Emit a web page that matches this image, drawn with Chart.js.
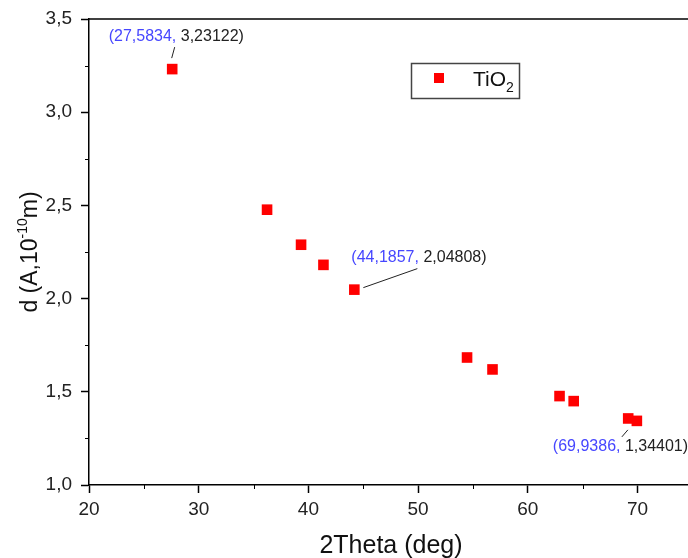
<!DOCTYPE html>
<html>
<head>
<meta charset="utf-8">
<script src="https://cdn.jsdelivr.net/npm/chart.js@4.4.1/dist/chart.umd.min.js"></script>
<style>
  html, body { margin: 0; padding: 0; background: #fff; overflow: hidden; }
  #wrap { width: 688px; height: 558px; position: relative; }
</style>
</head>
<body>
<div id="wrap"><canvas id="chart"></canvas></div>
<script>
// Valeurs (pics DRX du TiO2)
const twoTheta = [27.5834, 36.23, 39.33, 41.37, 44.1857, 54.46, 56.78, 62.89, 64.18, 69.15, 69.9386];
const dSpacing = [3.23122, 2.477, 2.289, 2.181, 2.04808, 1.684, 1.620, 1.477, 1.450, 1.357, 1.34401];
const labeledPoints = [0, 4, 10];
const xTickValues = [20, 30, 40, 50, 60, 70];
const yTickValues = [1.0, 1.5, 2.0, 2.5, 3.0, 3.5];
const seriesName = 'TiO';
const seriesSub = '2';

const FONT = "'Liberation Sans', Arial, sans-serif";
const comma = (v, n) => v.toFixed(n).replace('.', ',');

// Position des étiquettes par rapport au point (en px)
const labelOffsets = [
    { tx: -63.5, ty: -33, l1: [2.5, -22], l2: [-0.5, -11] },
    { tx: -3, ty: -32, l1: [63, -21], l2: [9, -2] },
    { tx: -84, ty: 26, l1: [-9, 9], l2: [-15, 16] }
];

// Dessine le cadre, les sous-graduations, les titres, la légende et les étiquettes
const decorPlugin = {
    id: 'decor',
    afterDraw(chart) {
        const { ctx, chartArea } = chart;
        const x = chart.scales.x, y = chart.scales.y;
        ctx.save();

        // ligne du haut
        ctx.strokeStyle = '#000';
        ctx.lineWidth = 1.5;
        ctx.beginPath();
        ctx.moveTo(chartArea.left, chartArea.top);
        ctx.lineTo(chartArea.right, chartArea.top);
        ctx.stroke();

        // sous-graduations
        ctx.lineWidth = 1;
        const xStep = x.ticks[1].value - x.ticks[0].value;
        x.ticks.forEach(t => {
            const v = t.value + xStep / 2;
            if (v >= x.max) return;
            const px = Math.round(x.getPixelForValue(v)) + 0.5;
            ctx.beginPath();
            ctx.moveTo(px, chartArea.bottom);
            ctx.lineTo(px, chartArea.bottom + 4);
            ctx.stroke();
        });
        const yStep = y.ticks[1].value - y.ticks[0].value;
        y.ticks.forEach(t => {
            const v = t.value + yStep / 2;
            if (v >= y.max) return;
            const py = Math.round(y.getPixelForValue(v)) + 0.5;
            ctx.beginPath();
            ctx.moveTo(chartArea.left, py);
            ctx.lineTo(chartArea.left - 4, py);
            ctx.stroke();
        });

        // titre axe x
        ctx.fillStyle = '#111';
        ctx.font = '25px ' + FONT;
        ctx.textAlign = 'center';
        ctx.textBaseline = 'alphabetic';
        ctx.fillText('2Theta (deg)', 391, 553);

        // titre axe y avec exposant
        ctx.save();
        ctx.translate(37, (chartArea.top + chartArea.bottom) / 2);
        ctx.rotate(-Math.PI / 2);
        ctx.textAlign = 'left';
        const parts = [
            { t: 'd (A,10', f: '23px ', dy: 0 },
            { t: '-10', f: '14px ', dy: -10 },
            { t: 'm)', f: '23px ', dy: 0 }
        ];
        let total = 0;
        parts.forEach(p => { ctx.font = p.f + FONT; p.w = ctx.measureText(p.t).width; total += p.w; });
        let cx = -total / 2;
        parts.forEach(p => { ctx.font = p.f + FONT; ctx.fillText(p.t, cx, p.dy); cx += p.w; });
        ctx.restore();

        // légende
        ctx.strokeStyle = '#444';
        ctx.lineWidth = 1.5;
        ctx.strokeRect(411.5, 63.5, 108, 35);
        ctx.fillStyle = '#ff0000';
        ctx.fillRect(434, 73, 10, 10);
        ctx.fillStyle = '#111';
        ctx.textAlign = 'left';
        ctx.font = '21px ' + FONT;
        ctx.fillText(seriesName, 473, 86);
        const w = ctx.measureText(seriesName).width;
        ctx.font = '14px ' + FONT;
        ctx.fillText(seriesSub, 473 + w, 92);

        // étiquettes des points
        ctx.font = '16px ' + FONT;
        ctx.textBaseline = 'middle';
        labeledPoints.forEach((idx, k) => {
            const o = labelOffsets[k];
            const px = x.getPixelForValue(twoTheta[idx]);
            const py = y.getPixelForValue(dSpacing[idx]);
            ctx.strokeStyle = '#222';
            ctx.lineWidth = 1;
            ctx.beginPath();
            ctx.moveTo(px + o.l1[0], py + o.l1[1]);
            ctx.lineTo(px + o.l2[0], py + o.l2[1]);
            ctx.stroke();
            const a = '(' + comma(twoTheta[idx], 4) + ',';
            const b = ' ' + comma(dSpacing[idx], 5) + ')';
            const tx = px + o.tx, ty = py + o.ty;
            ctx.fillStyle = '#4646ff';
            ctx.fillText(a, tx, ty);
            const aw = ctx.measureText(a).width;
            ctx.fillStyle = '#222';
            ctx.fillText(b, tx + aw, ty);
        });

        ctx.restore();
    }
};

const ctx = document.getElementById('chart').getContext('2d');

new Chart(ctx, {
    type: 'scatter',
    data: {
        datasets: [{
            label: seriesName + seriesSub,
            data: twoTheta.map((v, i) => ({ x: v, y: dSpacing[i] })),
            pointStyle: 'rect',
            pointRadius: 7.5,
            pointHoverRadius: 7.5,
            pointBorderWidth: 0,
            backgroundColor: '#ff0000',
            borderColor: '#ff0000'
        }]
    },
    options: {
        responsive: true,
        maintainAspectRatio: false,
        animation: false,
        layout: { autoPadding: false, padding: { top: 19, right: 0, left: 0, bottom: 0 } },
        plugins: {
            legend: { display: false },
            tooltip: { enabled: false }
        },
        scales: {
            x: {
                type: 'linear',
                min: 20,
                max: 74.6,
                afterFit: s => { s.height = 73; s.paddingLeft = 0; s.paddingRight = 0; },
                afterBuildTicks: s => { s.ticks = xTickValues.map(v => ({ value: v })); },
                ticks: {
                    autoSkip: false,
                    maxRotation: 0,
                    padding: 5,
                    color: '#222',
                    font: { family: FONT, size: 19 },
                    callback: v => String(v)
                },
                grid: { drawOnChartArea: false, tickLength: 8, tickColor: '#000', tickWidth: 1.5 },
                border: { color: '#000', width: 1.5 }
            },
            y: {
                type: 'linear',
                min: 1.0,
                max: 3.5,
                afterFit: s => { s.width = 89; s.paddingTop = 0; s.paddingBottom = 0; },
                afterBuildTicks: s => { s.ticks = yTickValues.map(v => ({ value: v })); },
                ticks: {
                    autoSkip: false,
                    padding: 9,
                    color: '#222',
                    font: { family: FONT, size: 19 },
                    callback: v => comma(v, 1)
                },
                grid: { drawOnChartArea: false, tickLength: 8, tickColor: '#000', tickWidth: 1.5 },
                border: { color: '#000', width: 1.5 }
            }
        }
    },
    plugins: [decorPlugin]
});
</script>
</body>
</html>
